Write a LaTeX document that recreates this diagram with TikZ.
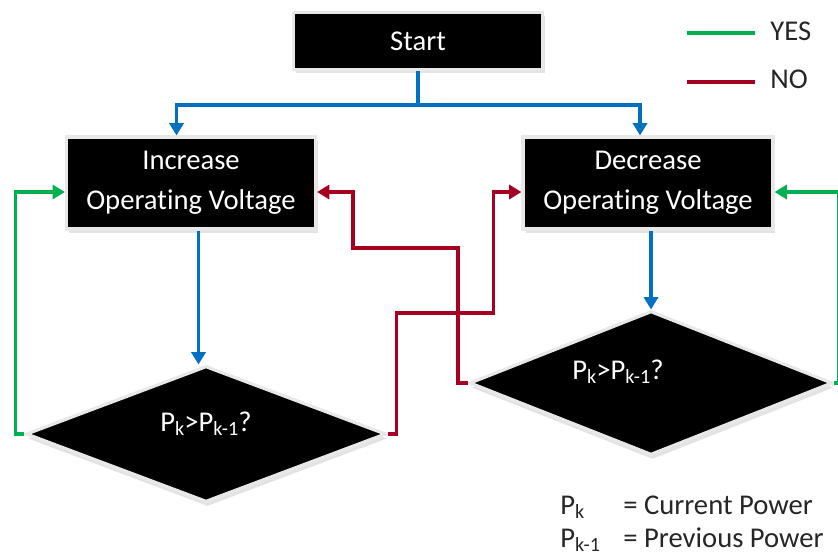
\documentclass[tikz,border=0pt]{standalone}
\usepackage{fontspec}
\setmainfont[Ligatures=NoCommon]{Carlito}
\usetikzlibrary{arrows.meta,shapes.geometric,shadows}

\definecolor{flowblue}{RGB}{0,112,192}
\definecolor{yesgreen}{RGB}{0,176,80}
\definecolor{nored}{RGB}{165,0,33}

\newcommand{\pwrsub}[1]{\raisebox{-0.14em}{\fontsize{11.5}{11.5}\selectfont #1}}

\tikzset{
  blackbox/.style={rectangle, fill=black, draw=black!9, line width=1.8pt, text=white,
    align=center, inner sep=0pt,
    drop shadow={shadow xshift=0.05cm, shadow yshift=-0.07cm, fill=black!22}},
  decision/.style={diamond, fill=black, draw=black!9, line width=1.8pt, inner sep=0pt,
    drop shadow={shadow xshift=0.03cm, shadow yshift=-0.09cm, fill=black!22}},
  flow/.style={draw=flowblue, line width=2pt, -{Triangle[length=7pt,width=8pt]}},
  yesline/.style={draw=yesgreen, line width=2pt, -{Triangle[length=7pt,width=8pt]}},
  noline/.style={draw=nored, line width=2pt, -{Triangle[length=7pt,width=8pt]}},
  legendtext/.style={anchor=west, inner sep=0pt, text=black!85}
}

\begin{document}
\begin{tikzpicture}[x={(0.02cm,0)}, y={(0,-0.02cm)}, font=\fontsize{16.3}{22.5}\selectfont]
  \useasboundingbox (0,0) rectangle (838,556);

  % boxes
  \node[blackbox, minimum width=4.98cm, minimum height=1.14cm] (start) at (418,41) {Start};
  \node[blackbox, minimum width=4.98cm, minimum height=1.84cm] (inc) at (191,183) {Increase\\Operating Voltage};
  \node[blackbox, minimum width=5cm, minimum height=1.84cm] (dec) at (648,183) {Decrease\\Operating Voltage};

  % decisions
  \node[decision, minimum width=7.2cm, minimum height=2.72cm,
    label={[text=white, yshift=0.2cm]center:P\pwrsub{k}>P\pwrsub{k-1}?}] (dl) at (206,434) {};
  \node[decision, minimum width=7.26cm, minimum height=2.88cm,
    label={[text=white, xshift=-0.66cm, yshift=0.22cm]center:P\pwrsub{k}>P\pwrsub{k-1}?}] (dr) at (651,383) {};

  % start split
  \path (start.south) ++(0,34) coordinate (split);
  \draw[flow] (start.south) -- (split) -| ([xshift=-0.29cm]inc.north);
  \draw[flow] (split) -| ([xshift=-0.16cm]dec.north);

  % down to the decisions
  \draw[flow] ([xshift=0.15cm]inc.south) -- ([xshift=0.15cm]inc.south |- dl.north);
  \draw[flow] (dr.north |- dec.south) -- (dr.north);

  % yes
  \draw[yesline] (dl.west) -- ++(-9,0) |- ([yshift=-0.18cm]inc.west);
  \draw[yesline] (dr.east) -- ++(5,0) |- ([yshift=-0.18cm]dec.east);

  % no
  \draw[noline] (dl.east) -- ++(9,0) -- ++(0,-121) -- ++(97,0) |- ([yshift=-0.18cm]dec.west);
  \draw[noline] (dr.west) -- ++(-10,0) -- ++(0,-135) -- ++(-105,0) |- ([yshift=-0.18cm]inc.east);

  % legend
  \node[legendtext] (yes) at (770,31) {YES};
  \node[legendtext] (no) at (770,79) {NO};
  \draw[draw=yesgreen, line width=2pt] ([xshift=-0.3cm, yshift=-0.04cm]yes.west) -- ++(-68,0);
  \draw[draw=nored, line width=2pt] ([xshift=-0.3cm, yshift=-0.06cm]no.west) -- ++(-68,0);

  \node[legendtext] (pk) at (560,507) {\makebox[1.26cm][l]{P\pwrsub{k}}= Current Power};
  \node[legendtext] (pkone) at (560,540) {\makebox[1.26cm][l]{P\pwrsub{k-1}}= Previous Power};
\end{tikzpicture}
\end{document}
